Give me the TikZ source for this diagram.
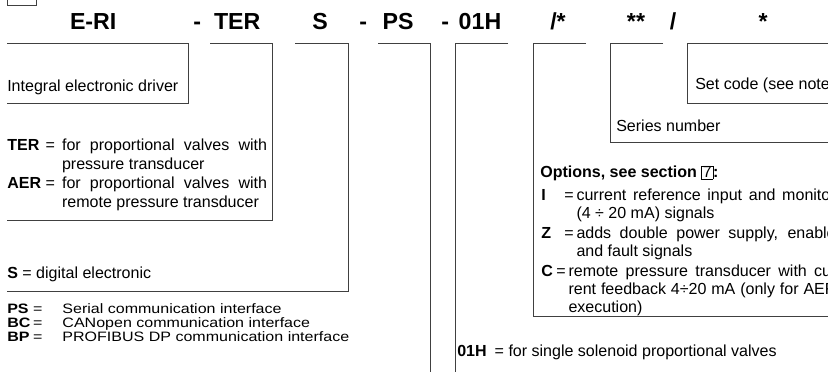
\documentclass[tikz,border=0pt]{standalone}
\usepackage{graphicx}
\usepackage{fontspec}
\setmainfont{Liberation Sans}
\tikzset{
    code/.style={font=\fontsize{16.5}{18}\selectfont\bfseries, anchor=base, inner sep=0pt},
    note/.style={font=\fontsize{11.4}{13.5}\selectfont, anchor=base west, inner sep=0pt},
    option/.style={note, font=\fontsize{11.4}{12.8}\selectfont},
    bracket/.style={black!75, line width=0.6pt},
}
\newcommand{\secbox}[1]{{\setlength{\fboxsep}{0.6pt}\setlength{\fboxrule}{0.4pt}\fbox{\normalfont #1}}}

\begin{document}
\begin{tikzpicture}
\useasboundingbox (0,0) rectangle (20.7,9.3);
\clip (0,0) rectangle (20.7,9.3);
\draw[bracket] (0.175,9.175) rectangle (0.9,9.6);

\node[code] (eri) at (2.33,8.55) {E-RI};
\node[code] (d1) at (4.93,8.55) {-};
\node[code] (ter) at (5.93,8.55) {TER};
\node[code] (s) at (8.0,8.55) {S};
\node[code] (d2) at (9.08,8.55) {-};
\node[code] (ps) at (9.95,8.55) {PS};
\node[code] (d3) at (11.13,8.55) {-};
\node[code] (h01) at (12.0,8.55) {01H};
\node[code] (opt) at (13.95,8.55) {/*};
\node[code] (ser) at (15.9,8.55) {**};
\node[code] (sl) at (16.83,8.55) {/};
\node[code] (set) at (19.08,8.55) {*};

\draw[bracket] (0.175,8.225) -| (4.7,6.725) -- (0.175,6.725);
\draw[bracket] (5.25,8.225) -| (6.8,3.8) -- (0.175,3.8);
\draw[bracket] (7.375,8.225) -| (8.7,2.025) -- (0.175,2.025);
\draw[bracket] (9.45,8.225) -| (10.75,0);
\draw[bracket] (12.7,8.225) -| (11.375,0);
\draw[bracket] (14.65,8.225) -| (13.325,1.4) -- (20.7,1.4);
\draw[bracket] (16.575,8.225) -| (15.25,5.75) -- (20.7,5.75);
\draw[bracket] (20.7,8.225) -| (17.175,6.725) -- (20.7,6.725);

\node[note] (eritxt) at (0.175,7.0) {Integral electronic driver};
\node[note] (tertxt) at (0.175,5.54) {\begin{tabular}[t]{@{}l@{ = \,}p{5.125cm}@{}}
\textbf{TER} & for proportional valves with\linebreak pressure transducer\\
\textbf{AER} & for proportional valves with\linebreak remote pressure transducer
\end{tabular}};
\node[note] (stxt) at (0.175,2.325) {\textbf{S} = digital electronic};
\node[note, font=\fontsize{11.4}{11.2}\selectfont] (pstxt) at (0.175,1.45) {\scalebox{1}[0.85]{\begin{tabular}[t]{@{}l@{\,=\hspace{0.5cm}}l@{}}
\textbf{PS} & Serial communication interface\\
\textbf{BC} & CANopen communication interface\\
\textbf{BP} & PROFIBUS DP communication interface
\end{tabular}}};
\node[note] (h01txt) at (11.425,0.375) {\textbf{01H}\enspace= for single solenoid proportional valves};
\node[note] (opthead) at (13.5,4.85) {\textbf{Options, see section \secbox{7}:}};
\node[option] (optI) at (13.525,4.29) {\begin{tabular}[t]{@{}p{0.58cm}@{=\,}p{6.48cm}@{}}
\textbf{I} & current reference input and monitor\linebreak (4 \textdiv{} 20 mA) signals
\end{tabular}};
\node[option] (optZ) at (13.525,3.3375) {\begin{tabular}[t]{@{}p{0.58cm}@{=\,}p{6.48cm}@{}}
\textbf{Z} & adds double power supply, enable\linebreak and fault signals
\end{tabular}};
\node[option] (optC) at (13.525,2.385) {\begin{tabular}[t]{@{}p{0.38cm}@{=\,}p{6.7cm}@{}}
\textbf{C} & remote pressure transducer with cu-\linebreak rent feedback 4\textdiv20 mA (only for AER\linebreak execution)
\end{tabular}};
\node[note] (sertxt) at (15.4,6.0) {Series number};
\node[note] (settxt) at (17.375,7.05) {Set code (see note 1)};
\end{tikzpicture}
\end{document}
